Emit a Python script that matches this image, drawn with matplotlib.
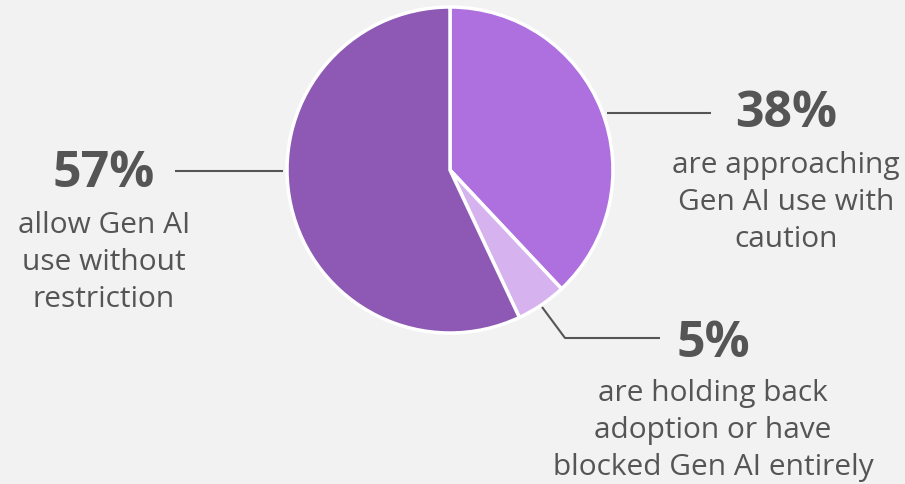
import matplotlib.pyplot as plt

# share of respondents, clockwise from 12 o'clock
shares = [38, 5, 57]
pct_labels = ["38%", "5%", "57%"]
descriptions = [
    "are approaching\nGen AI use with\ncaution",
    "are holding back\nadoption or have\nblocked Gen AI entirely",
    "allow Gen AI\nuse without\nrestriction",
]
colors = ["#ae6fdf", "#d6b3ee", "#8d59b4"]

bg = "#f2f2f2"
ink = "#555555"
plt.rcParams["font.family"] = ["Open Sans", "DejaVu Sans"]

W, H = 905, 484
fig = plt.figure(figsize=(W / 100, H / 100), dpi=100, facecolor=bg)
ax = fig.add_axes([0, 0, 1, 1])
ax.set_facecolor(bg)

# pie in pixel space (y measured upward)
ax.pie(shares, colors=colors, startangle=90, counterclock=False,
       center=(450, H - 170), radius=163, frame=True,
       wedgeprops=dict(edgecolor="white", linewidth=2.5))
ax.set_xlim(0, W)
ax.set_ylim(0, H)
ax.axis("off")

# label anchors: (x centre, pct baseline, description last-line baseline)
anchors = [(786, H - 127, H - 247),
           (713, H - 357, H - 475),
           (104, H - 187, H - 307)]
for (x, yp, yd), p, d in zip(anchors, pct_labels, descriptions):
    ax.text(x, yp, p, ha="center", va="baseline", fontsize=36,
            fontweight="bold", color=ink)
    ax.text(x, yd, d, ha="center", va="baseline", fontsize=21.5,
            color=ink, linespacing=1.36)

# leader lines
lk = dict(color=ink, lw=1.5, solid_capstyle="butt")
ax.plot([607, 711], [H - 113, H - 113], **lk)
ax.plot([542, 565, 660], [H - 307, H - 338, H - 338], **lk)
ax.plot([175, 283], [H - 171, H - 171], **lk)

fig.savefig("out.png", dpi=100, facecolor=bg)
